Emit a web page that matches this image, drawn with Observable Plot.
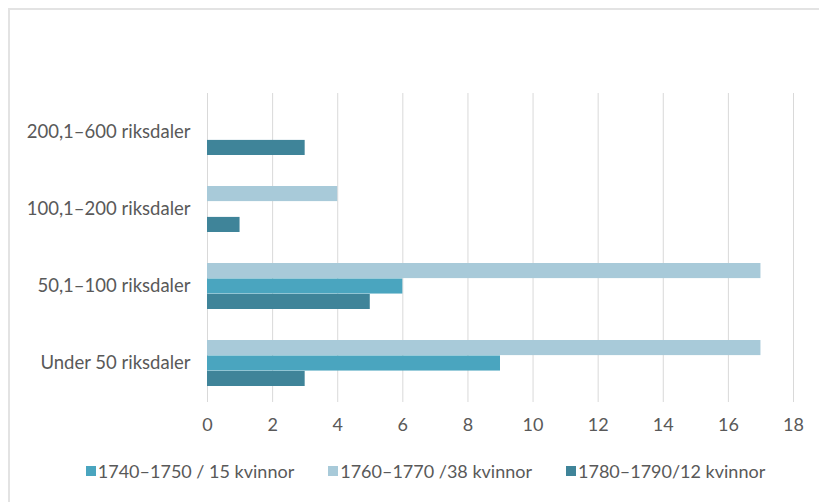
<!DOCTYPE html>
<html>
<head>
<meta charset="utf-8">
<script src="https://cdn.jsdelivr.net/npm/d3@7"></script>
<script src="https://cdn.jsdelivr.net/npm/@observablehq/plot@0.6"></script>
<style>
  html, body { margin: 0; padding: 0; background: #fff; }
  #wrap { position: relative; width: 819px; height: 502px; overflow: hidden; font-family: Lato, sans-serif; }
  #frame { position: absolute; left: 8px; top: 8px; width: 900px; height: 600px; border-left: 2px solid #e3e3e3; border-top: 2px solid #e3e3e3; box-sizing: border-box; }
  #chart { position: absolute; left: 0; top: 0; }
  #legend { position: absolute; left: 16px; top: 460px; width: 819px; display: flex; justify-content: center; font-size: 18px; color: #595959; }
  .item { display: flex; align-items: center; margin: 0 17px; white-space: pre; }
  .sw { width: 10px; height: 10px; margin-right: 2px; }
</style>
</head>
<body>
<div id="wrap">
  <div id="frame"></div>
  <div id="chart"></div>
  <div id="legend"></div>
</div>
<script>
const categories = ["200,1–600 riksdaler", "100,1–200 riksdaler", "50,1–100 riksdaler", "Under 50 riksdaler"];
const seriesNames = ["1740–1750 / 15 kvinnor", "1760–1770 /38 kvinnor", "1780–1790/12 kvinnor"];
const seriesColors = ["#4aa5bf", "#a8cad9", "#3f8499"];
const values1740 = [null, null, 6, 9];
const values1760 = [null, 4, 17, 17];
const values1780 = [3, 1, 5, 3];
const xTicks = [0, 2, 4, 6, 8, 10, 12, 14, 16, 18];

const W = 819, H = 445, mTop = 93, mBottom = 43, mLeft = 207, mRight = 26;
const pInner = 0.4, pOuter = 0.2;
const step = (H - mTop - mBottom) / (categories.length - pInner + 2 * pOuter);
const bw = step * (1 - pInner);
const slot = bw / 3;

function rows(vals) {
  return categories.map((c, i) => ({category: c, value: vals[i]})).filter(d => d.value != null);
}
// order within band, top to bottom: 1760, 1740, 1780
const layers = [
  {data: rows(values1760), color: seriesColors[1], top: 0},
  {data: rows(values1740), color: seriesColors[0], top: 1},
  {data: rows(values1780), color: seriesColors[2], top: 2}
];

const plot = Plot.plot({
  width: W, height: H,
  marginTop: mTop, marginBottom: mBottom, marginLeft: mLeft, marginRight: mRight,
  style: {fontFamily: "Lato, sans-serif", fontSize: "18px", color: "#595959", background: "transparent"},
  x: {domain: [0, 18], ticks: xTicks, label: null, tickSize: 0, tickPadding: 16},
  y: {domain: categories, paddingInner: pInner, paddingOuter: pOuter, label: null, tickSize: 0, tickPadding: 17},
  marks: [
    Plot.gridX(xTicks, {stroke: "#d9d9d9", strokeOpacity: 1, strokeWidth: 1}),
    ...layers.map(l => Plot.barX(l.data, {
      x: "value", y: "category", fill: l.color,
      insetTop: l.top * slot, insetBottom: (2 - l.top) * slot
    }))
  ]
});
plot.querySelectorAll("[aria-label='y-axis tick label'] text").forEach(t => t.style.fontSize = "18.5px");
document.getElementById("chart").appendChild(plot);

const legend = document.getElementById("legend");
seriesNames.forEach((s, i) => {
  const it = document.createElement("div");
  it.className = "item";
  const sw = document.createElement("div");
  sw.className = "sw";
  sw.style.background = seriesColors[i];
  const t = document.createElement("span");
  t.textContent = s;
  it.appendChild(sw); it.appendChild(t);
  legend.appendChild(it);
});
</script>
</body>
</html>
